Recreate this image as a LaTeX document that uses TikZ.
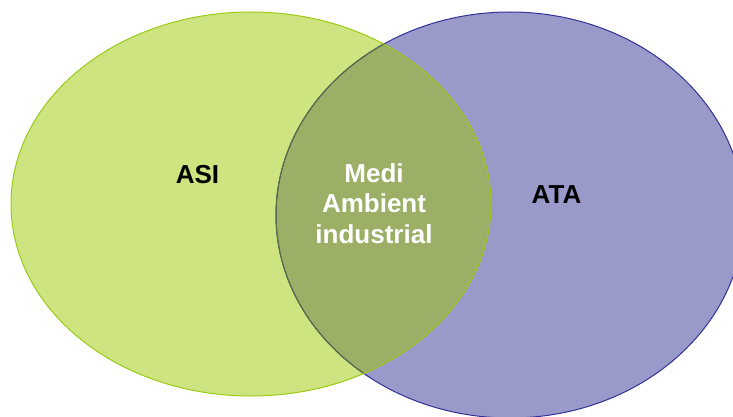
\documentclass[tikz,border=0pt]{standalone}
\usepackage{fontspec}
\setmainfont{Liberation Sans}
\definecolor{asifill}{RGB}{205,228,128}
\definecolor{asiline}{RGB}{154,202,22}
\definecolor{atafill}{RGB}{153,153,202}
\definecolor{ataline}{RGB}{50,50,150}
\definecolor{mixfill}{RGB}{155,176,102}
\definecolor{mixline}{RGB}{90,115,60}
\begin{document}
\begin{tikzpicture}[x=1pt,y=1pt,
  lbl/.style={font=\fontsize{26}{30.5}\selectfont\bfseries, inner sep=0pt, align=center}]
\useasboundingbox (0,0) rectangle (733,-417);
% fills
\fill[asifill] (251,-204) ellipse [x radius=240, y radius=192];
\fill[atafill] (510,-215) ellipse [x radius=234, y radius=203];
\begin{scope}
  \clip (251,-204) ellipse [x radius=240, y radius=192];
  \fill[mixfill] (510,-215) ellipse [x radius=234, y radius=203];
\end{scope}
% outlines
\draw[ataline, line width=1pt] (510,-215) ellipse [x radius=234, y radius=203];
\begin{scope}
  \clip (251,-204) ellipse [x radius=240, y radius=192];
  \draw[mixline, line width=1pt] (510,-215) ellipse [x radius=234, y radius=203];
\end{scope}
\draw[asiline, line width=1pt] (251,-204) ellipse [x radius=240, y radius=192];
% labels
\node[lbl, anchor=base, text=black] (asi) at (197.5,-183) {ASI};
\node[lbl, anchor=base, text=black] (ata) at (556.5,-203.5) {ATA};
\node[lbl, anchor=center, text=white] (mid) at (374,-203.4) {Medi\\Ambient\\industrial};
\end{tikzpicture}
\end{document}
